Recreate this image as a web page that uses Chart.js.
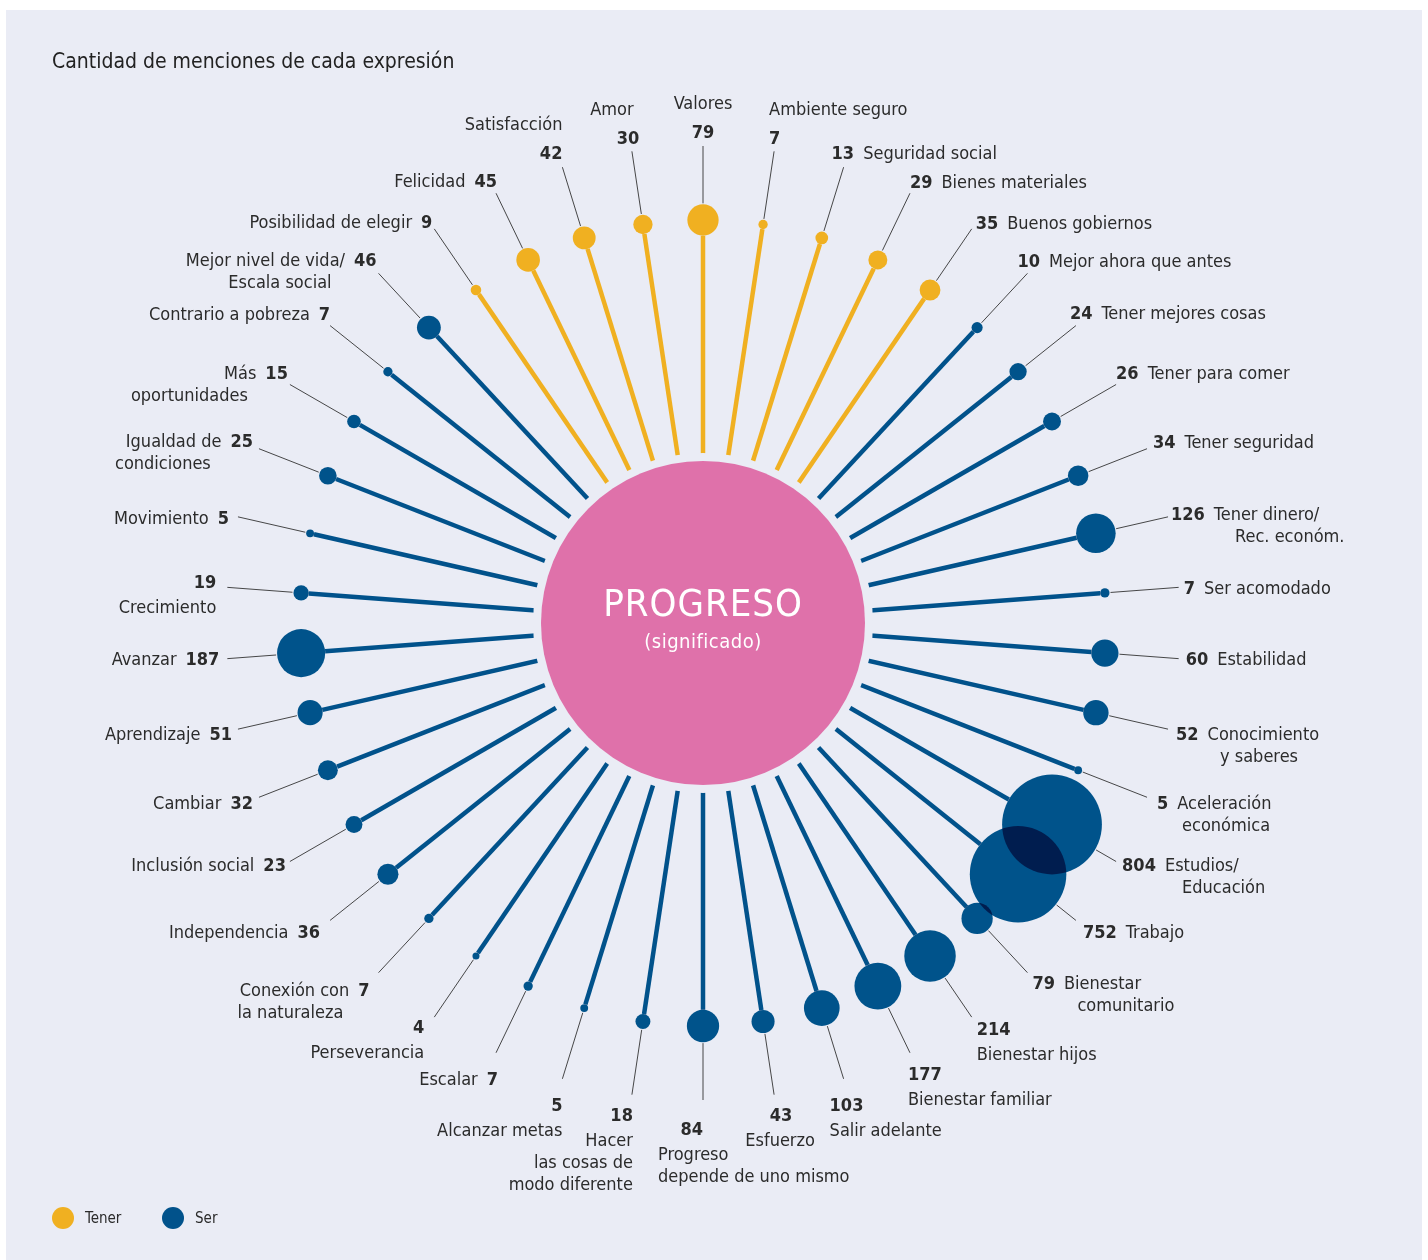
<!DOCTYPE html>
<html>
<head>
<meta charset="utf-8">
<script src="https://cdn.jsdelivr.net/npm/chart.js@4.4.1/dist/chart.umd.min.js"></script>
<style>
  html, body { margin: 0; padding: 0; background: #ffffff; }
  #wrap { width: 1428px; height: 1260px; position: relative; }
</style>
</head>
<body>
<div id="wrap"><canvas id="progresoChart"></canvas></div>
<script>
// expressions, clockwise starting at the top spoke
const categories = [
  'Valores', 'Ambiente seguro', 'Seguridad social', 'Bienes materiales', 'Buenos gobiernos',
  'Mejor ahora que antes', 'Tener mejores cosas', 'Tener para comer', 'Tener seguridad',
  ['Tener dinero/', 'Rec. económ.'], 'Ser acomodado', 'Estabilidad', ['Conocimiento', 'y saberes'],
  ['Aceleración', 'económica'], ['Estudios/', 'Educación'], 'Trabajo', ['Bienestar', 'comunitario'],
  'Bienestar hijos', 'Bienestar familiar', 'Salir adelante', 'Esfuerzo',
  ['Progreso', 'depende de uno mismo'], ['Hacer', 'las cosas de', 'modo diferente'], 'Alcanzar metas',
  'Escalar', 'Perseverancia', ['Conexión con', 'la naturaleza'], 'Independencia', 'Inclusión social',
  'Cambiar', 'Aprendizaje', 'Avanzar', 'Crecimiento', 'Movimiento', ['Igualdad de', 'condiciones'],
  ['Más', 'oportunidades'], 'Contrario a pobreza', ['Mejor nivel de vida/', 'Escala social'],
  'Posibilidad de elegir', 'Felicidad', 'Satisfacción', 'Amor'
];

// number of mentions of each expression
const counts = [
  79, 7, 13, 29, 35, 10, 24, 26, 34, 126, 7, 60, 52, 5, 804, 752, 79, 214, 177, 103, 43,
  84, 18, 5, 7, 4, 7, 36, 23, 32, 51, 187, 19, 5, 25, 15, 7, 46, 9, 45, 42, 30
];

// which series each expression belongs to
const groups = [
  'Tener', 'Tener', 'Tener', 'Tener', 'Tener', 'Ser', 'Ser', 'Ser', 'Ser', 'Ser', 'Ser', 'Ser',
  'Ser', 'Ser', 'Ser', 'Ser', 'Ser', 'Ser', 'Ser', 'Ser', 'Ser', 'Ser', 'Ser', 'Ser', 'Ser',
  'Ser', 'Ser', 'Ser', 'Ser', 'Ser', 'Ser', 'Ser', 'Ser', 'Ser', 'Ser', 'Ser', 'Ser', 'Ser',
  'Tener', 'Tener', 'Tener', 'Tener'
];

const seriesNames = ['Tener', 'Ser'];
const chartTitle = 'Cantidad de menciones de cada expresión';

// label placement: [kind, dx, dy, align, extra lines dx, extra lines align]
// offsets are from the outer end of each leader line
const labelLayout = [
  ['up', 0, -15, 'center', 0, 'center'],
  ['up', -5, -14, 'left', -5, 'left'],
  ['nr', -12, -15],
  ['nr', 0, -12],
  ['nr', 4, -7],
  ['nr', -10, -13],
  ['nr', -6, -13],
  ['nr', 0, -12],
  ['nr', 6, -7],
  ['nr', 3, -4, 'left', 67, 'left'],
  ['nr', 5, 0],
  ['nr', 7, 0],
  ['nr', 8, 4, 'left', 52, 'left'],
  ['nr', 10, 5, 'left', 35, 'left'],
  ['nr', 6, 3, 'left', 66, 'left'],
  ['nr', 7, 11],
  ['nr', 5, 10, 'left', 50, 'left'],
  ['down', 5, 11, 'left', 5, 'left'],
  ['down', -2, 21, 'left', -2, 'left'],
  ['down', -14, 26, 'left', -14, 'left'],
  ['down', 7, 20, 'center', 6, 'center'],
  ['down', 0, 28, 'right', -45, 'left'],
  ['down', 1, 20, 'right', 1, 'right'],
  ['down', 0, 26, 'right', 0, 'right'],
  ['rn', 2, 26],
  ['down', -10, 9, 'right', -10, 'right'],
  ['rn', -9, 17, 'right', -141, 'left'],
  ['rn', -10, 11],
  ['rn', -4, 3],
  ['rn', -6, 5],
  ['rn', -6, 4],
  ['rn', -8, 0],
  ['down', -11, -6, 'right', -11, 'right'],
  ['rn', -9, 0],
  ['rn', -6, -8, 'right', -144, 'left'],
  ['rn', -2, -12, 'right', -159, 'left'],
  ['rn', 0, -12],
  ['rn', -2, -14, 'right', -47, 'right'],
  ['rn', -2, -8],
  ['rn', 1, -13],
  ['up', 0, -15, 'right', 0, 'right'],
  ['up', -4, -14, 'center', -20, 'center']
];

const BG = '#eaecf5';
const YELLOW = '#f0b021';
const BLUE = '#01528b';
const BLUE_MULTIPLY = '#005991';
const PINK = '#df71aa';
const TEXT = '#2b2b2b';
const FONT = "'Liberation Sans Narrow', 'DejaVu Sans Condensed', 'Arial Narrow', sans-serif";
const NAME_FONT = '18px ' + FONT;
const NUM_FONT = 'bold 18px ' + FONT;

const bubbleRadius = v => 1.76 * Math.sqrt(v);

function drawText(ctx, text, x, y, font, align) {
  ctx.font = font;
  ctx.textAlign = align;
  ctx.fillText(text, x, y + 2);
}

function drawLabel(ctx, i, end) {
  const [kind, dx, dy, align = 'left', xDx = dx, xAlign = align] = labelLayout[i];
  const lines = [].concat(categories[i]);
  const num = String(counts[i]);
  const x = end.x + dx;
  const y = end.y + dy;
  const gap = 9;

  if (kind === 'nr' || kind === 'rn') {
    ctx.font = NUM_FONT;
    const wn = ctx.measureText(num).width;
    ctx.font = NAME_FONT;
    const wt = ctx.measureText(lines[0]).width;
    if (kind === 'nr') {
      drawText(ctx, num, x, y, NUM_FONT, 'left');
      drawText(ctx, lines[0], x + wn + gap, y, NAME_FONT, 'left');
    } else {
      drawText(ctx, num, x - wn, y, NUM_FONT, 'left');
      drawText(ctx, lines[0], x - wn - gap - wt, y, NAME_FONT, 'left');
    }
    lines.slice(1).forEach((t, k) => drawText(ctx, t, end.x + xDx, y + 22 * (k + 1), NAME_FONT, xAlign));
  } else if (kind === 'down') {
    drawText(ctx, num, x, y, NUM_FONT, align);
    lines.forEach((t, k) => drawText(ctx, t, end.x + xDx, y + 25 + 22 * k, NAME_FONT, xAlign));
  } else {
    drawText(ctx, num, x, y, NUM_FONT, align);
    const n = lines.length;
    lines.forEach((t, k) => drawText(ctx, t, end.x + xDx, y - 29 - 22 * (n - 1 - k), NAME_FONT, xAlign));
  }
}

const decorPlugin = {
  id: 'decor',
  beforeDraw(chart) {
    const ctx = chart.ctx;
    ctx.save();
    ctx.fillStyle = '#ffffff';
    ctx.fillRect(0, 0, chart.width, chart.height);
    ctx.fillStyle = BG;
    ctx.fillRect(6, 10, chart.width - 12, chart.height - 10);
    ctx.restore();
  },
  beforeDatasetsDraw(chart) {
    const r = chart.scales.r;
    const ctx = chart.ctx;
    ctx.save();
    // gap ring and centre disc
    ctx.fillStyle = BG;
    ctx.beginPath();
    ctx.arc(r.xCenter, r.yCenter, r.drawingArea * 0.422, 0, Math.PI * 2);
    ctx.fill();
    ctx.fillStyle = PINK;
    ctx.beginPath();
    ctx.arc(r.xCenter, r.yCenter, r.drawingArea * 0.402, 0, Math.PI * 2);
    ctx.fill();
    ctx.fillStyle = '#ffffff';
    ctx.textBaseline = 'middle';
    ctx.letterSpacing = '1px';
    drawText(ctx, 'PROGRESO', r.xCenter, r.yCenter - 19, '38px ' + FONT, 'center');
    ctx.letterSpacing = '0.5px';
    drawText(ctx, '(significado)', r.xCenter, r.yCenter + 18, '20px ' + FONT, 'center');
    ctx.restore();
  },
  beforeDatasetDraw(chart, args) {
    if (args.index === 1) {
      chart.ctx.save();
      chart.ctx.globalCompositeOperation = 'multiply';
    }
  },
  afterDatasetDraw(chart, args) {
    if (args.index === 1) chart.ctx.restore();
  },
  afterDatasetsDraw(chart) {
    const r = chart.scales.r;
    const ctx = chart.ctx;
    const R = r.drawingArea;
    const outer = R + 74;
    ctx.save();
    // leader lines
    ctx.strokeStyle = '#333333';
    ctx.lineWidth = 0.9;
    categories.forEach((c, i) => {
      const a = r.getPointPosition(i, R + bubbleRadius(counts[i]) + 1);
      const b = r.getPointPosition(i, outer);
      ctx.beginPath();
      ctx.moveTo(a.x, a.y);
      ctx.lineTo(b.x, b.y);
      ctx.stroke();
    });
    // labels
    ctx.fillStyle = TEXT;
    ctx.textBaseline = 'middle';
    categories.forEach((c, i) => drawLabel(ctx, i, r.getPointPosition(i, outer)));

    // title
    ctx.fillStyle = '#222222';
    drawText(ctx, chartTitle, 52, 61, '21px ' + FONT, 'left');

    // legend
    const legendX = [63, 173];
    seriesNames.forEach((name, k) => {
      ctx.fillStyle = name === 'Tener' ? YELLOW : BLUE;
      ctx.beginPath();
      ctx.arc(legendX[k], 1218, 11, 0, Math.PI * 2);
      ctx.fill();
      ctx.fillStyle = TEXT;
      drawText(ctx, name, legendX[k] + 22, 1217, '15px ' + FONT, 'left');
    });
    ctx.restore();
  }
};

new Chart(document.getElementById('progresoChart'), {
  type: 'radar',
  data: {
    labels: categories,
    datasets: seriesNames.map(name => ({
      label: name,
      // every expression sits on the outer ring; its count sets the bubble size
      data: groups.map(g => (g === name ? 1 : null)),
      pointRadius: c => bubbleRadius(counts[c.dataIndex]),
      pointHoverRadius: c => bubbleRadius(counts[c.dataIndex]),
      pointBackgroundColor: name === 'Tener' ? YELLOW : BLUE_MULTIPLY,
      pointBorderWidth: 0,
      showLine: false,
      fill: false,
      backgroundColor: 'transparent',
      borderColor: 'transparent',
      clip: false
    }))
  },
  options: {
    responsive: true,
    maintainAspectRatio: false,
    animation: false,
    events: [],
    layout: { padding: { left: 300, right: 322, top: 220, bottom: 234 } },
    plugins: {
      legend: { display: false },
      title: { display: false },
      tooltip: { enabled: false }
    },
    scales: {
      r: {
        min: 0,
        max: 1,
        ticks: { display: false },
        grid: { display: false },
        pointLabels: { display: false },
        angleLines: {
          display: true,
          color: c => (groups[c.index] === 'Tener' ? YELLOW : BLUE),
          lineWidth: 4.5,
          borderDash: c => [c.scale.drawingArea - bubbleRadius(counts[c.index]), 4000]
        }
      }
    }
  },
  plugins: [decorPlugin]
});
</script>
</body>
</html>
